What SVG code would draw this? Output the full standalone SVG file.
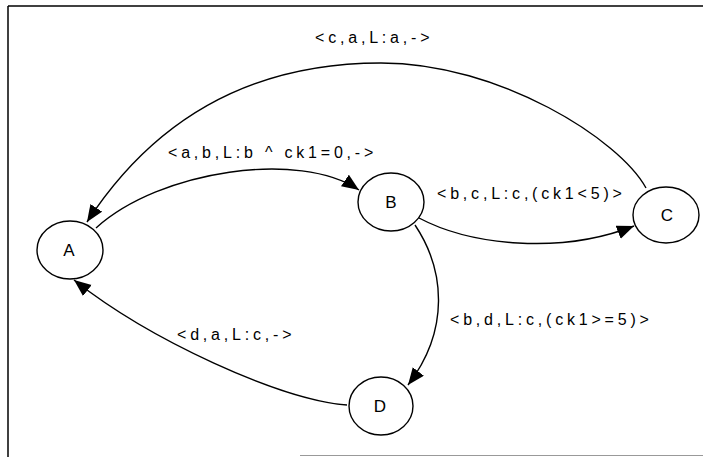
<svg xmlns="http://www.w3.org/2000/svg" width="703" height="457" viewBox="0 0 703 457">
<style>
.node{fill:#fff;stroke:#000;stroke-width:1.4}
.nl{font-family:"Liberation Sans",Arial,sans-serif;font-size:17px;text-anchor:middle;fill:#000}
.el{font-family:"Liberation Sans",Arial,sans-serif;font-size:16px;letter-spacing:3.8px;fill:#000}
.edge{fill:none;stroke:#000;stroke-width:1.4;marker-end:url(#ah)}
</style>
<defs>
<marker id="ah" markerUnits="userSpaceOnUse" markerWidth="20" markerHeight="16" refX="17" refY="7" orient="auto">
<path d="M0,0 L17,7 L0,14 Z" fill="#000"/>
</marker>
</defs>
<rect width="703" height="457" fill="#fff"/>
<g id="frame">
<line x1="8" y1="6" x2="8" y2="457" stroke="#000" stroke-width="1.5"/>
<line x1="8" y1="6" x2="703" y2="6" stroke="#000" stroke-width="1.5"/>
<line x1="300" y1="455.5" x2="703" y2="455.5" stroke="#999" stroke-width="1"/>
</g>
<g id="connectors">
<path class="edge" d="M646,188 C620,140 500,63 381,63 C262,63 160,110 87,222"/>
<path class="edge" d="M96,228 C160,170 300,150 359,190"/>
<path class="edge" d="M419,218 C470,245 560,255 634,226"/>
<path class="edge" d="M415,225 C445,270 450,330 408,385"/>
<path class="edge" d="M347,405 C280,400 150,340 74,280"/>
<text class="el" x="315" y="43">&lt;c,a,L:a,-&gt;</text>
<text class="el" x="168" y="158">&lt;a,b,L:b ^ ck1=0,-&gt;</text>
<text class="el" x="437" y="199">&lt;b,c,L:c,(ck1&lt;5)&gt;</text>
<text class="el" x="450" y="325">&lt;b,d,L:c,(ck1&gt;=5)&gt;</text>
<text class="el" x="177" y="340">&lt;d,a,L:c,-&gt;</text>
</g>
<g id="node-A"><ellipse class="node" cx="70" cy="250" rx="33" ry="29"/><text class="nl" x="69" y="256">A</text></g>
<g id="node-B"><ellipse class="node" cx="391" cy="202" rx="33" ry="29"/><text class="nl" x="391" y="208">B</text></g>
<g id="node-C"><ellipse class="node" cx="666" cy="215" rx="33" ry="28"/><text class="nl" x="667" y="221">C</text></g>
<g id="node-D"><ellipse class="node" cx="381" cy="406" rx="32" ry="29"/><text class="nl" x="380" y="412">D</text></g>
</svg>
